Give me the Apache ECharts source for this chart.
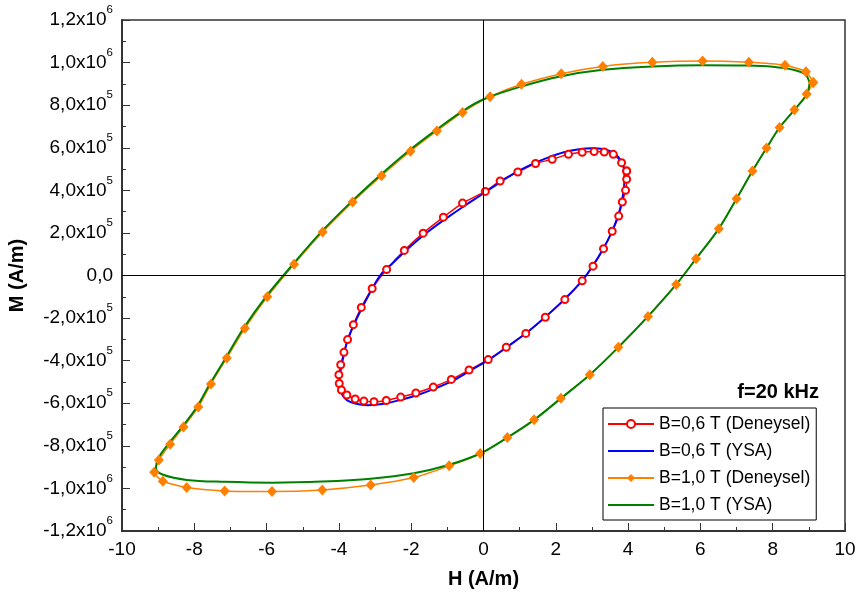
<!DOCTYPE html>
<html><head><meta charset="utf-8">
<script src="https://cdn.jsdelivr.net/npm/echarts@6/dist/echarts.min.js"></script>
<style>html,body{margin:0;padding:0;background:#fff}#c{width:864px;height:605px}</style>
</head><body><div id="c"></div>
<script>
// B=0,6 T (Deneysel) - measured inner loop
const in06ExpH = [3.96,3.82,3.59,3.34,3.06,2.73,2.35,1.90,1.44,0.95,0.46,0.05,-0.58,-1.11,-1.67,-2.19,-2.68,-3.08,-3.38,-3.60,-3.76,-3.86,-3.95,-4.00,-3.99,-3.93,-3.78,-3.55,-3.31,-3.03,-2.69,-2.29,-1.87,-1.39,-0.89,-0.40,0.13,0.63,1.17,1.71,2.25,2.73,3.03,3.32,3.56,3.74,3.84,3.93,3.96,3.96];
const in06ExpM = [491e3,530e3,569e3,580e3,582e3,579e3,569e3,546e3,526e3,486e3,444e3,395e3,340e3,274e3,199e3,118e3,28e3,-61e3,-150e3,-231e3,-301e3,-361e3,-419e3,-466e3,-507e3,-538e3,-561e3,-580e3,-590e3,-593e3,-587e3,-571e3,-552e3,-524e3,-488e3,-444e3,-395e3,-337e3,-272e3,-196e3,-113e3,-25e3,44e3,126e3,208e3,279e3,345e3,400e3,452e3,491e3];
// B=0,6 T (YSA)
const in06AnnH = [3.90,3.80,3.60,3.30,3.00,2.60,2.20,1.80,1.30,0.80,0.30,0.00,-0.50,-1.00,-1.50,-2.00,-2.50,-2.86,-3.20,-3.50,-3.75,-3.90,-3.97,-3.95,-3.80,-3.55,-3.20,-2.80,-2.30,-1.80,-1.30,-0.80,-0.30,0.20,0.70,1.20,1.70,2.20,2.70,3.00,3.30,3.55,3.72,3.83,3.89,3.90];
const in06AnnM = [490e3,540e3,575e3,594e3,598e3,592e3,578e3,555e3,520e3,475e3,420e3,385e3,330e3,272e3,210e3,140e3,60e3,0,-100e3,-200e3,-300e3,-400e3,-480e3,-540e3,-582e3,-601e3,-609e3,-604e3,-585e3,-560e3,-528e3,-490e3,-440e3,-390e3,-330e3,-268e3,-196e3,-118e3,-30e3,40e3,122e3,205e3,280e3,350e3,420e3,490e3];
// B=1,0 T (Deneysel) - measured outer loop
const out10ExpH = [9.12,8.92,8.34,7.34,6.06,4.67,3.30,2.15,1.05,0.18,-0.58,-1.29,-2.02,-2.82,-3.62,-4.45,-5.24,-5.98,-6.60,-7.10,-7.54,-7.89,-8.30,-8.67,-8.98,-9.11,-8.87,-8.21,-7.16,-5.85,-4.46,-3.12,-1.93,-0.95,-0.09,0.66,1.40,2.14,2.94,3.73,4.55,5.33,5.88,6.51,7.00,7.44,7.83,8.19,8.60,8.94,9.12];
const out10ExpM = [907e3,957e3,987e3,1001e3,1007e3,1001e3,982e3,948e3,898e3,840e3,766e3,679e3,584e3,469e3,345e3,204e3,53e3,-100e3,-248e3,-387e3,-510e3,-618e3,-712e3,-792e3,-866e3,-924e3,-966e3,-996e3,-1012e3,-1015e3,-1007e3,-984e3,-949e3,-894e3,-836e3,-761e3,-678e3,-577e3,-466e3,-337e3,-192e3,-42e3,79e3,220e3,361e3,491e3,599e3,695e3,778e3,852e3,907e3];
// B=1,0 T (YSA)
const out10AnnH = [9.02,8.90,8.57,8.00,7.30,6.06,4.67,3.30,2.12,1.05,0.00,-0.60,-1.30,-2.05,-2.85,-3.65,-4.48,-5.27,-6.02,-6.64,-7.13,-7.57,-7.93,-8.34,-8.72,-9.00,-9.06,-8.86,-8.21,-7.16,-5.85,-4.46,-3.12,-1.93,-0.95,-0.09,0.66,1.40,2.14,2.94,3.73,4.55,5.33,5.88,6.51,7.00,7.44,7.83,8.19,8.60,8.94,9.02];
const out10AnnM = [905e3,945e3,966e3,980e3,986e3,988e3,982e3,966e3,935e3,888e3,828e3,770e3,685e3,588e3,472e3,347e3,206e3,53e3,-100e3,-248e3,-387e3,-510e3,-618e3,-712e3,-792e3,-860e3,-905e3,-936e3,-960e3,-969e3,-973e3,-968e3,-955e3,-929e3,-889e3,-836e3,-761e3,-678e3,-577e3,-466e3,-337e3,-192e3,-42e3,79e3,220e3,361e3,491e3,599e3,695e3,778e3,850e3,905e3];

const seriesNames = ['B=0,6 T (Deneysel)','B=0,6 T (YSA)','B=1,0 T (Deneysel)','B=1,0 T (YSA)'];
const xTicks = {min:-10, max:10, step:2};
const yTicks = {min:-1.2e6, max:1.2e6, step:2e5};
const freqLabel = 'f=20 kHz';

const zip = (a,b) => a.map((v,i)=>[v,b[i]]);
const FONT = '"Liberation Sans", Arial, sans-serif';

function yFmt(v){
  if (Math.abs(v) < 1) return '{b|0,0}';
  const e = Math.floor(Math.log10(Math.abs(v)) + 1e-9);
  const m = (v / Math.pow(10,e)).toFixed(1).replace('.',',');
  return '{b|' + m + 'x10}{s|' + e + '}';
}

const chart = echarts.init(document.getElementById('c'), null, {renderer:'canvas'});
chart.setOption({
  animation:false,
  backgroundColor:'#fff',
  textStyle:{fontFamily:FONT},
  grid:{left:122, right:19, top:20, bottom:74, containLabel:false, outerBoundsMode:'none',
        show:true, borderColor:'#333', borderWidth:1.5, backgroundColor:'transparent'},
  xAxis:{type:'value', min:xTicks.min, max:xTicks.max, interval:xTicks.step,
    name:'H (A/m)', nameLocation:'middle', nameGap:38,
    nameTextStyle:{fontFamily:FONT, fontSize:20, fontWeight:'bold', color:'#000'},
    axisLine:{onZero:false, lineStyle:{color:'#333', width:2}},
    axisTick:{inside:true, length:8, lineStyle:{color:'#333', width:1}},
    minorTick:{show:true, splitNumber:2, length:4, lineStyle:{color:'#333', width:1}},
    splitLine:{show:false},
    axisLabel:{fontFamily:FONT, fontSize:19, color:'#000', margin:9}
  },
  yAxis:{type:'value', min:yTicks.min, max:yTicks.max, interval:yTicks.step,
    name:'M (A/m)', nameLocation:'middle', nameGap:95, nameRotate:90,
    nameTextStyle:{fontFamily:FONT, fontSize:20, fontWeight:'bold', color:'#000'},
    axisLine:{onZero:false, lineStyle:{color:'#333', width:2}},
    axisTick:{inside:true, length:8, lineStyle:{color:'#333', width:1}},
    minorTick:{show:true, splitNumber:2, length:4, lineStyle:{color:'#333', width:1}},
    splitLine:{show:false},
    axisLabel:{margin:9, fontFamily:FONT, fontSize:19, color:'#000', formatter:yFmt,
      rich:{
        b:{fontFamily:FONT, fontSize:19, color:'#000', lineHeight:32, verticalAlign:'middle'},
        s:{fontFamily:FONT, fontSize:11.5, color:'#000', lineHeight:12, padding:[0,0,20,0], verticalAlign:'middle'}
      }}
  },
  legend:{orient:'vertical', left:603, top:408, itemWidth:46, itemHeight:10, itemGap:9,
    padding:[7,6,6,4], borderColor:'#000', borderWidth:1, backgroundColor:'#fff',
    textStyle:{fontFamily:FONT, fontSize:17.5, color:'#000', lineHeight:18},
    data:[
      {name:seriesNames[0]},
      {name:seriesNames[1], itemStyle:{opacity:0}},
      {name:seriesNames[2]},
      {name:seriesNames[3], itemStyle:{opacity:0}}
    ]},
  graphic:[{type:'text', right:864-819, top:382, style:{text:freqLabel, font:'bold 20px '+FONT, fill:'#000'}}],
  series:[
    {name:seriesNames[0], type:'line', data:zip(in06ExpH,in06ExpM), smooth:0.2,
     symbol:'emptyCircle', symbolSize:7, showAllSymbol:true,
     lineStyle:{color:'#ff0000', width:1.5}, itemStyle:{color:'#ff0000', borderColor:'#ff0000', borderWidth:1},
     markLine:{silent:true, symbol:'none', label:{show:false}, lineStyle:{color:'#000', width:1, type:'solid'},
       data:[{xAxis:0},{yAxis:0}]}},
    {name:seriesNames[1], type:'line', data:zip(in06AnnH,in06AnnM), smooth:0.35, symbol:'none',
     lineStyle:{color:'#0000ff', width:2}, itemStyle:{color:'#0000ff'}},
    {name:seriesNames[2], type:'line', data:zip(out10ExpH,out10ExpM), smooth:0.2,
     symbol:'diamond', symbolSize:[10,11], showAllSymbol:true,
     lineStyle:{color:'#ff8000', width:1.5}, itemStyle:{color:'#ff8000'}},
    {name:seriesNames[3], type:'line', data:zip(out10AnnH,out10AnnM), smooth:0.35, symbol:'none',
     lineStyle:{color:'#008000', width:2}, itemStyle:{color:'#008000'}}
  ]
});
</script></body></html>
